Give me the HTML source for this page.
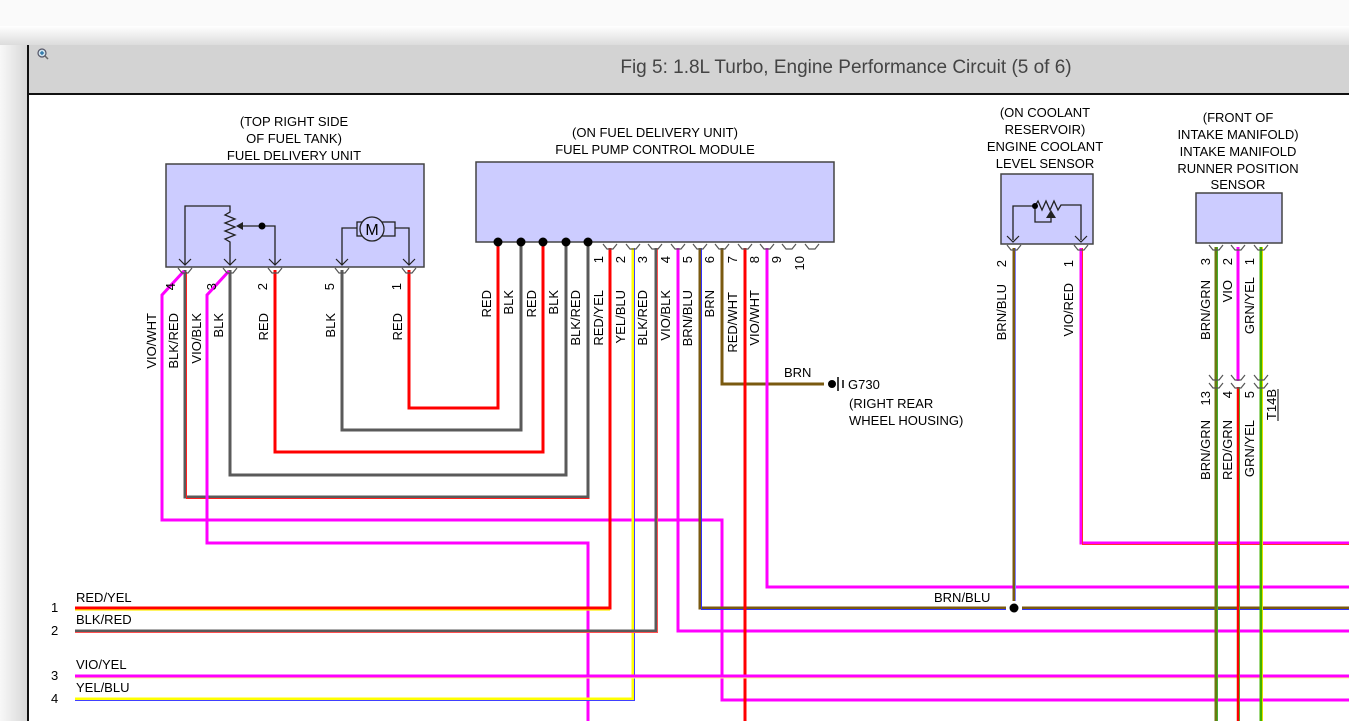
<!DOCTYPE html>
<html><head><meta charset="utf-8"><style>
html,body{margin:0;padding:0;width:1349px;height:721px;overflow:hidden;background:#fff;}
svg{display:block;font-family:"Liberation Sans",Arial,sans-serif;}
</style></head><body>
<svg width="1349" height="721" viewBox="0 0 1349 721" xmlns="http://www.w3.org/2000/svg">
<defs>
<linearGradient id="sh" x1="0" y1="0" x2="0" y2="1"><stop offset="0" stop-color="#ffffff"/><stop offset="1" stop-color="#dcdcdc"/></linearGradient>
<linearGradient id="shl" x1="0" y1="0" x2="1" y2="0"><stop offset="0" stop-color="#f8f8f8"/><stop offset="1" stop-color="#d8d8d8"/></linearGradient>
</defs>
<rect x="0" y="0" width="1349" height="721" fill="#fafafa"/>
<rect x="0" y="26" width="1349" height="19" fill="url(#sh)"/>
<rect x="0" y="45" width="27" height="676" fill="url(#shl)"/>
<rect x="27" y="45" width="1322" height="48" fill="#d3d3d3"/>
<rect x="27" y="45" width="2" height="676" fill="#111"/>
<rect x="27" y="93" width="1322" height="2" fill="#111"/>
<rect x="29" y="95" width="1320" height="626" fill="#fff"/>
<circle cx="42" cy="53" r="4" fill="#cfe3ee" stroke="#556" stroke-width="1.2"/>
<path d="M40 53h4M42 51v4" stroke="#1a6aa0" stroke-width="1.2"/>
<path d="M45 56l3 3" stroke="#666" stroke-width="1.5"/>
<text x="846" y="73" font-size="19" fill="#444" text-anchor="middle">Fig 5: 1.8L Turbo, Engine Performance Circuit (5 of 6)</text>

<g font-size="13" fill="#000" text-anchor="middle">
<text x="294" y="126">(TOP RIGHT SIDE</text>
<text x="294" y="143">OF FUEL TANK)</text>
<text x="294" y="160">FUEL DELIVERY UNIT</text>
<text x="655" y="137">(ON FUEL DELIVERY UNIT)</text>
<text x="655" y="154">FUEL PUMP CONTROL MODULE</text>
<text x="1045" y="117">(ON COOLANT</text>
<text x="1045" y="134">RESERVOIR)</text>
<text x="1045" y="151">ENGINE COOLANT</text>
<text x="1045" y="168">LEVEL SENSOR</text>
<text x="1238" y="122">(FRONT OF</text>
<text x="1238" y="139">INTAKE MANIFOLD)</text>
<text x="1238" y="156">INTAKE MANIFOLD</text>
<text x="1238" y="173">RUNNER POSITION</text>
<text x="1238" y="189">SENSOR</text>
<text x="253" y="182">FUEL</text>
<text x="253" y="198">LEVEL SENSOR</text>
<text x="368" y="178">TRANSFER</text>
<text x="368" y="195">FUEL</text>
<text x="368" y="212">PUMP</text>
</g>

<g fill="#ccccff" stroke="#444" stroke-width="1.5">
<rect x="166" y="164" width="258" height="103"/>
<rect x="476" y="162" width="358" height="80"/>
<rect x="1001" y="174" width="92" height="70"/>
<rect x="1196" y="193" width="86" height="50"/>
</g>

<g fill="none" stroke="#222" stroke-width="1.3">
<path d="M185 265V206H230V212l-5 3 10 4-10 4 10 4-10 4 10 4-10 4 5 3V265"/>
<path d="M275 265V226H238"/>
<path d="M342 265V228H357M395 228H409V265"/>
<rect x="357" y="222" width="38" height="14" fill="#ccccff"/>
<circle cx="372" cy="229" r="12" fill="#ccccff"/>
<path d="M1013 240V206H1035l3-5 4 9 4-9 4 9 4-9 4 9 3-5H1081V240"/>
<path d="M1035 206V222H1051V212"/>
</g>
<text x="372" y="235" font-size="16" text-anchor="middle">M</text>
<path d="M236 226l7-4v8z" fill="#222"/>
<path d="M1046 218l5-8 5 8z" fill="#222"/>
<circle cx="262" cy="226" r="3.5" fill="#000"/>
<circle cx="1035" cy="206" r="3" fill="#000"/>
<g fill="none" stroke="#222" stroke-width="1.2">
<path d="M179 259l6 6 6-6M224 259l6 6 6-6M269 259l6 6 6-6M336 259l6 6 6-6M403 259l6 6 6-6M1007 236l6 6 6-6M1075 236l6 6 6-6"/>
</g>

<g fill="none" stroke-linejoin="miter">
<path d="M409 270V408H498V242" stroke="#ff0000" stroke-width="3"/>
<path d="M342 270V430H521V242" stroke="#5a5a5a" stroke-width="3"/>
<path d="M275 270V452H543V242" stroke="#ff0000" stroke-width="3"/>
<path d="M230 270V475H566V242" stroke="#5a5a5a" stroke-width="3"/>
<path d="M185 270V497H588V242" stroke="#5a5a5a" stroke-width="3"/>
<path d="M186.5 272V498.5H589.5" stroke="#ff2020" stroke-width="1"/>
<path d="M184 271L162 295V520H722V700H1349" stroke="#ff00ff" stroke-width="3"/>
<path d="M229 271L207 295V543H588V721" stroke="#ff00ff" stroke-width="3"/>
<path d="M610 248V608H75" stroke="#ff0000" stroke-width="3"/>
<path d="M610 610H75" stroke="#ffee00" stroke-width="1.2"/>
<path d="M633 248V699H75" stroke="#ffff00" stroke-width="3"/>
<path d="M634.5 248V700.5H75" stroke="#4040ff" stroke-width="1"/>
<path d="M656 248V631H75" stroke="#5a5a5a" stroke-width="3"/>
<path d="M657.5 248V632.5H75" stroke="#ff5050" stroke-width="1"/>
<path d="M678 248V631H1349" stroke="#ff00ff" stroke-width="3"/>
<path d="M700 248V608H1006M1022 608H1349" stroke="#7a5a10" stroke-width="3"/>
<path d="M701.5 248V609.5H1006M1022 609.5H1349" stroke="#3030ff" stroke-width="1"/>
<path d="M722 248V384H824" stroke="#7a5a10" stroke-width="3"/>
<path d="M745 248V721" stroke="#ff0000" stroke-width="3"/>
<path d="M767 248V587H1349" stroke="#ff00ff" stroke-width="3"/>
<path d="M75 676H1349" stroke="#ff00ff" stroke-width="3"/>
<path d="M75 678H1349" stroke="#ffff80" stroke-width="1"/>
<path d="M1014 248V601" stroke="#7a5a10" stroke-width="3"/>
<path d="M1015.5 248V601" stroke="#8080ff" stroke-width="1"/>
<path d="M1081 248V543H1349" stroke="#ff00ff" stroke-width="3"/>
<path d="M1082.5 248V544.5H1349" stroke="#ff3030" stroke-width="1"/>
<path d="M1216 247V721" stroke="#6b7a10" stroke-width="3"/>
<path d="M1217.5 247V721" stroke="#40b030" stroke-width="1"/>
<path d="M1238 247V381" stroke="#ff00ff" stroke-width="3"/>
<path d="M1238 387V721" stroke="#ff0000" stroke-width="2.5"/>
<path d="M1239.5 387V721" stroke="#60a030" stroke-width="1"/>
<path d="M1261 247V721" stroke="#40b000" stroke-width="3"/>
<path d="M1262.5 247V721" stroke="#e0e000" stroke-width="1"/>
</g>
<g fill="#000">
<circle cx="498" cy="242" r="4.5"/><circle cx="521" cy="242" r="4.5"/><circle cx="543" cy="242" r="4.5"/><circle cx="566" cy="242" r="4.5"/><circle cx="588" cy="242" r="4.5"/>
<circle cx="1014" cy="608" r="4.5"/>
<circle cx="832" cy="384" r="4"/>
</g>
<path d="M838 377V391M843 380V388" stroke="#000" stroke-width="1.5"/>
<g fill="none" stroke="#555" stroke-width="1.2">
<path d="M178 268l4 5h6l4-5M223 268l4 5h6l4-5M268 268l4 5h6l4-5M335 268l4 5h6l4-5M402 268l4 5h6l4-5"/>
<path d="M603 244l4 5h6l4-5M626 244l4 5h6l4-5M648 244l4 5h6l4-5M671 244l4 5h6l4-5M693 244l4 5h6l4-5M715 244l4 5h6l4-5M738 244l4 5h6l4-5M760 244l4 5h6l4-5M782 244l4 5h6l4-5M805 244l4 5h6l4-5"/>
<path d="M1007 245l4 5h6l4-5M1074 245l4 5h6l4-5"/>
<path d="M1209 245l4 5h6l4-5M1231 245l4 5h6l4-5M1254 245l4 5h6l4-5"/>
<path d="M1209 375l4 5h6l4-5M1231 375l4 5h6l4-5M1254 375l4 5h6l4-5"/>
<path d="M1209 383l4 5h6l4-5M1231 383l4 5h6l4-5M1254 383l4 5h6l4-5"/>
</g>

<g font-size="13" fill="#000" text-anchor="end">
<text transform="translate(156,313) rotate(-90)">VIO/WHT</text>
<text transform="translate(178,313) rotate(-90)">BLK/RED</text>
<text transform="translate(201,313) rotate(-90)">VIO/BLK</text>
<text transform="translate(223,313) rotate(-90)">BLK</text>
<text transform="translate(268,313) rotate(-90)">RED</text>
<text transform="translate(335,313) rotate(-90)">BLK</text>
<text transform="translate(402,313) rotate(-90)">RED</text>
<text transform="translate(175,283) rotate(-90)">4</text>
<text transform="translate(216,283) rotate(-90)">3</text>
<text transform="translate(267,283) rotate(-90)">2</text>
<text transform="translate(334,283) rotate(-90)">5</text>
<text transform="translate(401,283) rotate(-90)">1</text>
<text transform="translate(491,290) rotate(-90)">RED</text>
<text transform="translate(513,290) rotate(-90)">BLK</text>
<text transform="translate(536,290) rotate(-90)">RED</text>
<text transform="translate(558,290) rotate(-90)">BLK</text>
<text transform="translate(580,290) rotate(-90)">BLK/RED</text>
<text transform="translate(603,290) rotate(-90)">RED/YEL</text>
<text transform="translate(625,290) rotate(-90)">YEL/BLU</text>
<text transform="translate(647,290) rotate(-90)">BLK/RED</text>
<text transform="translate(670,290) rotate(-90)">VIO/BLK</text>
<text transform="translate(692,290) rotate(-90)">BRN/BLU</text>
<text transform="translate(714,290) rotate(-90)">BRN</text>
<text transform="translate(737,292) rotate(-90)">RED/WHT</text>
<text transform="translate(759,290) rotate(-90)">VIO/WHT</text>
<text transform="translate(603,256) rotate(-90)">1</text>
<text transform="translate(625,256) rotate(-90)">2</text>
<text transform="translate(647,256) rotate(-90)">3</text>
<text transform="translate(670,256) rotate(-90)">4</text>
<text transform="translate(692,256) rotate(-90)">5</text>
<text transform="translate(714,256) rotate(-90)">6</text>
<text transform="translate(737,256) rotate(-90)">7</text>
<text transform="translate(759,256) rotate(-90)">8</text>
<text transform="translate(781,256) rotate(-90)">9</text>
<text transform="translate(804,256) rotate(-90)">10</text>
<text transform="translate(1006,284) rotate(-90)">BRN/BLU</text>
<text transform="translate(1006,260) rotate(-90)">2</text>
<text transform="translate(1073,283) rotate(-90)">VIO/RED</text>
<text transform="translate(1073,260) rotate(-90)">1</text>
<text transform="translate(1210,280) rotate(-90)">BRN/GRN</text>
<text transform="translate(1210,258) rotate(-90)">3</text>
<text transform="translate(1232,280) rotate(-90)">VIO</text>
<text transform="translate(1232,258) rotate(-90)">2</text>
<text transform="translate(1254,277) rotate(-90)">GRN/YEL</text>
<text transform="translate(1254,258) rotate(-90)">1</text>
<text transform="translate(1210,420) rotate(-90)">BRN/GRN</text>
<text transform="translate(1210,391) rotate(-90)">13</text>
<text transform="translate(1232,420) rotate(-90)">RED/GRN</text>
<text transform="translate(1232,391) rotate(-90)">4</text>
<text transform="translate(1254,420) rotate(-90)">GRN/YEL</text>
<text transform="translate(1254,391) rotate(-90)">5</text>
<text transform="translate(1276,389) rotate(-90)">T14B</text>
</g>
<path d="M1278 389V421" stroke="#000" stroke-width="1"/>

<g font-size="13" fill="#000">
<text x="784" y="377">BRN</text>
<text x="848" y="389">G730</text>
<text x="849" y="408">(RIGHT REAR</text>
<text x="849" y="425">WHEEL HOUSING)</text>
<text x="934" y="602">BRN/BLU</text>
<text x="76" y="602">RED/YEL</text>
<text x="76" y="624">BLK/RED</text>
<text x="76" y="669">VIO/YEL</text>
<text x="76" y="692">YEL/BLU</text>
<text x="51" y="612">1</text>
<text x="51" y="635">2</text>
<text x="51" y="680">3</text>
<text x="51" y="703">4</text>
</g>
</svg>
</body></html>
